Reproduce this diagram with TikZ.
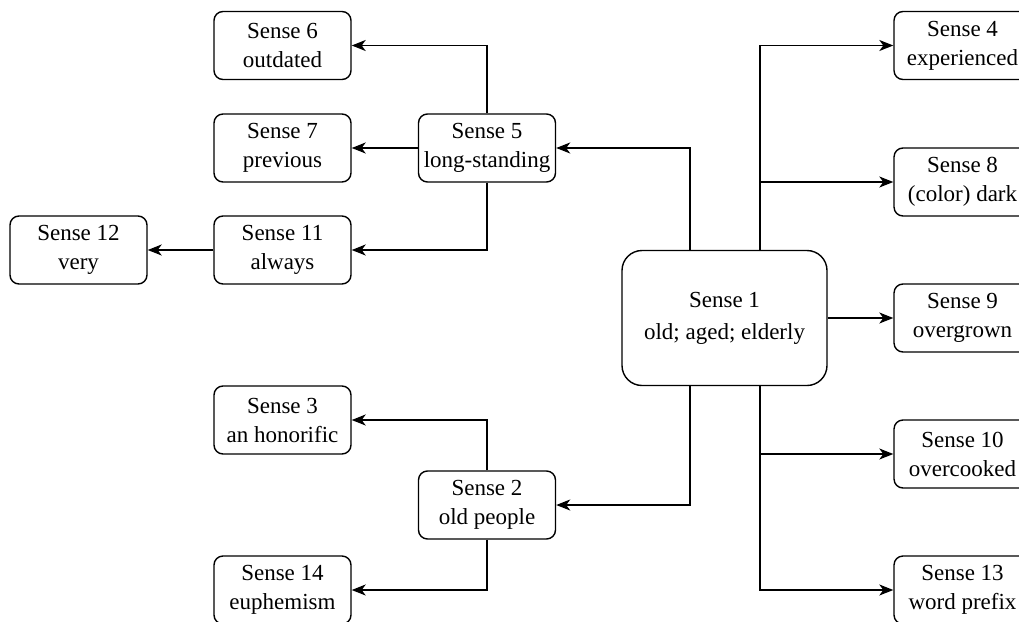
\documentclass[tikz,border=0pt]{standalone}
\usepackage{fontspec}
\setmainfont{Liberation Serif}
\usetikzlibrary{arrows.meta,shapes,calc}
\usetikzlibrary{positioning}

\tikzset{
  sense/.style={draw,rectangle,rounded corners=9pt,line width=1.4pt,
    minimum width=137pt,minimum height=68pt,align=center,inner sep=0pt,
    font=\rmfamily\fontsize{23}{29}\selectfont},
  main/.style={sense,rounded corners=20pt,minimum width=205pt,minimum height=135pt,
    font=\rmfamily\fontsize{23}{32}\selectfont},
  arr/.style={-{Stealth[length=14pt,width=11pt,inset=4pt]},line width=1.4pt}
}

\begin{document}
\begin{tikzpicture}[x=1pt,y=-1pt]
 \useasboundingbox (0,0) rectangle (1019,621);
 \clip (0,0) rectangle (1019,621);
%main
 \node[main] (s1) at (724.5,318) {Sense 1\\old; aged; elderly};
%left top
 \node[sense] (s5) at (487,148) {Sense 5\\long-standing};
 \node[sense] (s6) at (282.5,45.5) {Sense 6\\outdated};
 \node[sense] (s7) at (282.5,148) {Sense 7\\previous};
 \node[sense] (s11) at (282.5,250) {Sense 11\\always};
 \node[sense] (s12) at (78.5,250) {Sense 12\\very};
%left bottom
 \node[sense] (s2) at (487,505) {Sense 2\\old people};
 \node[sense] (s3) at (282.5,420) {Sense 3\\an honorific};
 \node[sense] (s14) at (282.5,590) {Sense 14\\euphemism};
%right
 \node[sense] (s4) at (962.5,45.5) {Sense 4\\experienced};
 \node[sense] (s8) at (962.5,182) {Sense 8\\(color) dark};
 \node[sense] (s9) at (962.5,318) {Sense 9\\overgrown};
 \node[sense] (s10) at (962.5,454) {Sense 10\\overcooked};
 \node[sense] (s13) at (962.5,590) {Sense 13\\word prefix};
%arrows left
 \draw[arr] ([xshift=-34.5pt]s1.north) |- (s5);
 \draw[arr] (s5.north) |- (s6);
 \draw[arr] (s5) -- (s7);
 \draw[arr] (s5.south) |- (s11);
 \draw[arr] (s11) -- (s12);
 \draw[arr] ([xshift=-34.5pt]s1.south) |- (s2);
 \draw[arr] (s2.north) |- (s3);
 \draw[arr] (s2.south) |- (s14);
%arrows right
 \draw[arr] ([xshift=35.5pt]s1.north) |- (s4);
 \draw[arr] ([xshift=35.5pt]s1.north) |- (s8);
 \draw[arr] (s1) -- (s9);
 \draw[arr] ([xshift=35.5pt]s1.south) |- (s10);
 \draw[arr] ([xshift=35.5pt]s1.south) |- (s13);
\end{tikzpicture}
\end{document}
